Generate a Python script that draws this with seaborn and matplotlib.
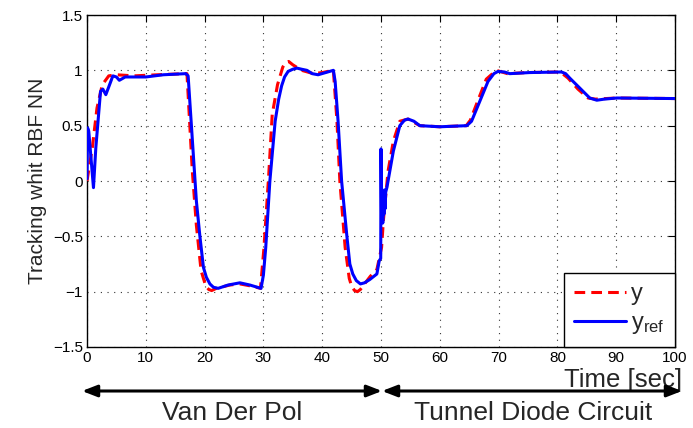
import numpy as np
import pandas as pd
import matplotlib
matplotlib.use("Agg")
import matplotlib.pyplot as plt
import seaborn as sns

# ---- data ----
t_ref = [0.0, 0.1, 0.3, 1.1, 1.5, 2.3, 2.7, 3.2, 3.7, 4.4, 5.0, 5.5, 6.5, 10.0, 13.0, 16.8, 17.2,
         18.6, 19.2, 19.8, 20.3, 20.9, 21.5, 22.3, 24.0, 26.0, 27.7, 29.6, 30.0, 30.4, 31.1, 32.0,
         32.6, 33.1, 33.6, 34.2, 35.0, 35.7, 36.5, 37.4, 38.3, 39.3, 40.6, 41.9, 42.2, 42.7, 43.3,
         44.2, 44.7, 45.2, 45.8, 46.5, 47.2, 48.1, 49.3, 49.7,
         49.95, 50.0, 50.1, 50.2, 50.3, 50.4, 50.5, 50.6, 50.7, 50.8, 51.0, 52.1, 53.2, 54.0, 54.6,
         55.6, 56.6, 60.0, 64.6, 65.4, 66.8, 68.2, 69.2, 69.9, 71.0, 71.9, 75.3, 80.7, 81.4, 82.1,
         83.8, 85.5, 86.7, 88.0, 90.1, 100.0]
y_ref = [0.02, 0.48, 0.45, -0.06, 0.30, 0.81, 0.83, 0.78, 0.85, 0.95, 0.94, 0.91, 0.94, 0.94, 0.96, 0.97, 0.95,
         -0.18, -0.50, -0.78, -0.87, -0.93, -0.96, -0.97, -0.94, -0.92, -0.94, -0.97, -0.85, -0.60, 0.0, 0.54,
         0.74, 0.86, 0.94, 0.99, 1.01, 1.02, 1.01, 1.00, 0.97, 0.96, 0.98, 1.00, 0.90, 0.54, 0.0,
         -0.50, -0.75, -0.84, -0.90, -0.93, -0.92, -0.89, -0.84, -0.72,
         -0.70, 0.29, -0.35, -0.10, -0.38, -0.12, -0.30, -0.08, -0.25, -0.10, -0.06, 0.27, 0.50, 0.55, 0.56,
         0.54, 0.50, 0.49, 0.50, 0.54, 0.72, 0.90, 0.97, 0.99, 0.985, 0.97, 0.98, 0.985, 0.97, 0.93,
         0.84, 0.75, 0.73, 0.74, 0.75, 0.745]

t_y = [0.0, 0.9, 1.7, 2.6, 3.7, 5.0, 8.0, 12.0, 16.8, 17.0, 17.9, 18.6, 19.4, 20.2, 20.7, 21.2, 22.0,
       24.3, 26.0, 28.0, 29.5, 30.1, 30.9, 31.5, 32.4, 33.3, 33.8, 34.3, 35.0, 36.5, 38.5, 40.0, 41.9,
       42.5, 43.0, 43.9, 44.6, 45.0, 45.5, 46.0, 46.5, 47.2, 48.2, 49.3, 50.1, 50.4, 51.2, 52.1, 53.2, 54.6,
       56.6, 60.0, 64.5, 65.2, 66.5, 67.9, 69.6, 71.5, 75.0, 80.5, 81.8, 83.5, 85.2, 86.5, 90.0, 100.0]
y_out = [0.0, 0.30, 0.66, 0.87, 0.95, 0.96, 0.95, 0.96, 0.97, 0.97, 0.10, -0.40, -0.81, -0.95, -0.98, -0.99, -0.97,
         -0.94, -0.93, -0.95, -0.97, -0.60, 0.05, 0.60, 0.87, 1.03, 1.07, 1.08, 1.05, 1.00, 0.97, 0.98, 1.00,
         0.55, 0.0, -0.60, -0.88, -0.95, -0.99, -1.00, -0.98, -0.93, -0.86, -0.80, -0.60, -0.36, 0.09, 0.36, 0.54, 0.56,
         0.50, 0.49, 0.50, 0.55, 0.73, 0.92, 1.00, 0.97, 0.98, 0.985, 0.93, 0.83, 0.75, 0.74, 0.75, 0.745]

x_ticks = [0, 10, 20, 30, 40, 50, 60, 70, 80, 90, 100]
y_ticks = [-1.5, -1.0, -0.5, 0.0, 0.5, 1.0, 1.5]
y_tick_labels = ["\u22121.5", "\u22121", "\u22120.5", "0", "0.5", "1", "1.5"]
segments = ["Van Der Pol", "Tunnel Diode Circuit"]

# ---- style ----
sns.set_style("white")
plt.rcParams["font.family"] = ["Liberation Sans", "DejaVu Sans"]
plt.rcParams["mathtext.fontset"] = "custom"
plt.rcParams["mathtext.rm"] = "Liberation Sans"
plt.rcParams["mathtext.it"] = "Liberation Sans"

fig = plt.figure(figsize=(6.93, 4.28), dpi=100)
ax = fig.add_axes([87 / 693, 81 / 428, 588 / 693, 332 / 428])

df_y = pd.DataFrame({"t": t_y, "v": y_out})
df_r = pd.DataFrame({"t": t_ref, "v": y_ref})

sns.lineplot(data=df_y, x="t", y="v", ax=ax, color="#ff0000", lw=2.2,
             estimator=None, sort=False, label="y", zorder=3)
ax.lines[-1].set_dashes((3.5, 2.0))
sns.lineplot(data=df_r, x="t", y="v", ax=ax, color="#0000ff", lw=2.2,
             estimator=None, sort=False, label=r"$\mathrm{y_{ref}}$", zorder=4)

ax.set_xlim(0, 100)
ax.set_ylim(-1.5, 1.5)
ax.set_xticks(x_ticks)
ax.set_xticklabels([str(v) for v in x_ticks])
ax.set_yticks(y_ticks)
ax.set_yticklabels(y_tick_labels)
ax.tick_params(direction="in", length=5, width=0.8, top=True, right=True,
               labelsize=11, colors="black", pad=3)
ax.grid(True, linestyle=(0, (1, 5)), color="#333333", linewidth=0.8)
for s in ax.spines.values():
    s.set_color("black")
    s.set_linewidth(1.0)

ax.set_ylabel("Tracking whit RBF NN", fontsize=15, labelpad=4)
ax.set_xlabel("Time [sec]", fontsize=18.5, ha="right")
ax.xaxis.set_label_coords((682 - 87) / 588, -0.062)

leg = ax.legend(loc="lower right", fontsize=17, frameon=True, fancybox=False,
                borderaxespad=0.0, handlelength=2.2, borderpad=0.45, labelspacing=0.3,
                handletextpad=0.2)
leg.get_frame().set_edgecolor("black")
leg.get_frame().set_linewidth(1.0)
leg.get_frame().set_alpha(1)

# ---- arrows and segment labels below the axis ----
def fx(px):
    return px / 693

def fy(py):
    return 1 - py / 428

arrow_style = dict(arrowstyle="<|-|>,head_length=0.9,head_width=0.35", color="black",
                   lw=2.2, shrinkA=0, shrinkB=0)
ax.annotate("", xy=(fx(82), fy(391)), xytext=(fx(382), fy(391)),
            xycoords="figure fraction", textcoords="figure fraction", arrowprops=arrow_style)
ax.annotate("", xy=(fx(382), fy(391)), xytext=(fx(682), fy(391)),
            xycoords="figure fraction", textcoords="figure fraction", arrowprops=arrow_style)
fig.text(fx(232), fy(413), segments[0], fontsize=19, ha="center", va="center")
fig.text(fx(533), fy(413), segments[1], fontsize=19, ha="center", va="center")

fig.savefig("out.png", dpi=100)
